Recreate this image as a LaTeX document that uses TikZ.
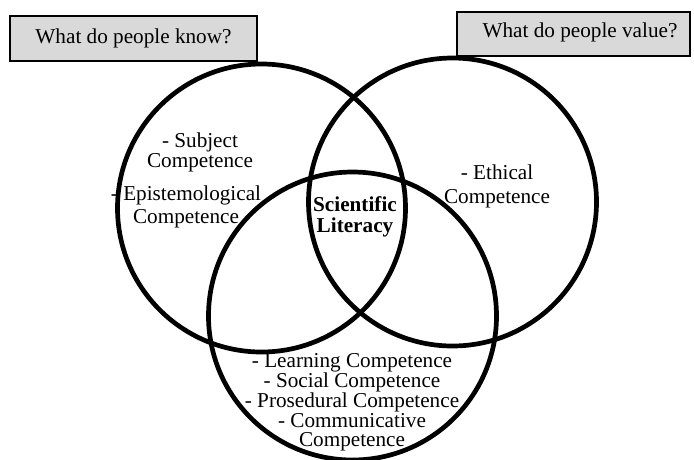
\documentclass[tikz,border=0pt]{standalone}
\usepackage{fontspec}
\setmainfont{Liberation Serif}
\begin{document}
\begin{tikzpicture}[x=1pt,y=-1pt,
  ring/.style={draw, line width=4.7pt, circle, minimum size=288pt, inner sep=0pt},
  qbox/.style={draw, line width=1.5pt, fill=boxgray, inner sep=0pt, font=\fontsize{21.2}{20}\selectfont},
  lbl/.style={align=center, inner sep=0pt, font=\fontsize{21.2}{20}\selectfont}]
\definecolor{boxgray}{HTML}{D9D9D9}
\useasboundingbox (0,0) rectangle (694,459);
% question boxes
\node[qbox, minimum width=247pt, minimum height=45pt] (qk) at (133.5,38.5) {What do people know?};
\node[qbox, minimum width=233pt, minimum height=44pt] (qv) at (573.5,34) {};
\node[lbl] (qvt) at (580,32) {What do people value?};
% circles
\node[ring] (L) at (261.5,208) {};
\node[ring] (R) at (452.5,202) {};
\node[ring] (B) at (352.5,316) {};
% labels
\node[lbl] (subj) at (200,152) {- Subject\\Competence};
\node[lbl, font=\fontsize{21.2}{23}\selectfont] (epis) at (186,206.5) {- Epistemological\\Competence};
\node[lbl, font=\fontsize{21.2}{21}\selectfont\bfseries] (sl) at (355,216.5) {Scientific\\Literacy};
\node[lbl, font=\fontsize{21.2}{24}\selectfont] (eth) at (497,186) {- Ethical\\Competence};
\node[lbl, font=\fontsize{21.2}{19.75}\selectfont] (bot) at (352,402.5) {- Learning Competence\\- Social Competence\\- Prosedural Competence\\- Communicative\\Competence};
\end{tikzpicture}
\end{document}
